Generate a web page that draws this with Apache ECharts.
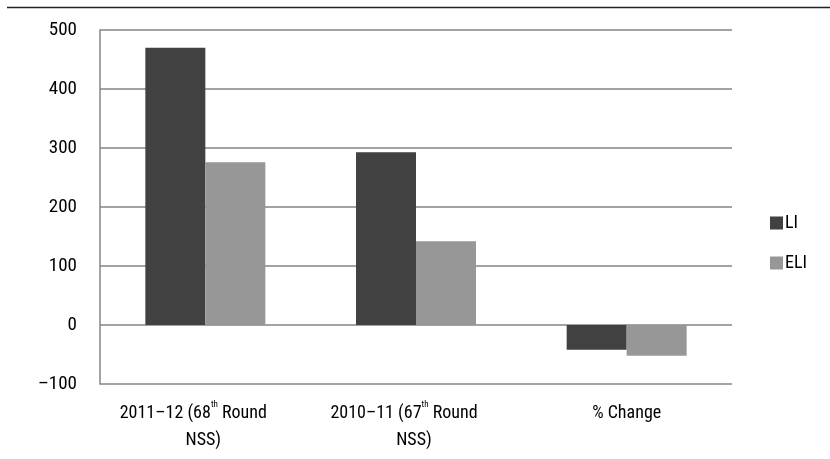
<!DOCTYPE html>
<html>
<head>
<meta charset="utf-8">
<script src="https://cdn.jsdelivr.net/npm/echarts@6/dist/echarts.min.js"></script>
<style>
html,body{margin:0;padding:0;background:#fff;}
#c{width:830px;height:459px;}
</style>
</head>
<body>
<div id="c"></div>
<script>
const categories = ['2011–12 (68th Round NSS)', '2010–11 (67th Round NSS)', '% Change'];
const seriesNames = ['LI', 'ELI'];
const liValues = [470, 293, -42];
const eliValues = [276, 142, -52];
const yTicks = [-100, 0, 100, 200, 300, 400, 500];

const FONT = '"Roboto Condensed", "Liberation Sans Narrow", sans-serif';
const chart = echarts.init(document.getElementById('c'));

function catLabel(v) {
  const m = v.match(/^(.*\()(\d+)th (Round) (NSS\))$/);
  if (m) {
    return '{a|' + m[1] + m[2] + '}{s|th}{a| ' + m[3] + '}{g|}\n{a|' + m[4] + '}{h|}';
  }
  return '{a|' + v + '}';
}

chart.setOption({
  animation: false,
  backgroundColor: '#fff',
  textStyle: { fontFamily: FONT },
  graphic: [{
    type: 'line',
    shape: { x1: 7, y1: 7.5, x2: 830, y2: 7.5 },
    style: { stroke: '#222', lineWidth: 1.5 }
  }],
  grid: { left: 100, right: 98, top: 30, bottom: 75, containLabel: false },
  legend: {
    orient: 'vertical',
    left: 765,
    top: 209,
    itemWidth: 13,
    itemHeight: 13,
    itemGap: 22,
    icon: 'rect',
    data: seriesNames,
    textStyle: { fontFamily: FONT, fontSize: 18, color: '#000', padding: [0, 0, 0, -3] }
  },
  xAxis: {
    type: 'category',
    data: categories,
    axisLine: { show: false },
    axisTick: { show: false },
    axisLabel: {
      margin: 16,
      interval: 0,
      formatter: catLabel,
      rich: {
        a: { fontFamily: FONT, fontSize: 18, color: '#000', lineHeight: 27 },
        s: { fontFamily: FONT, fontSize: 9, color: '#000', verticalAlign: 'top', lineHeight: 19 },
        g: { width: 24 },
        h: { width: 4 }
      }
    }
  },
  yAxis: {
    type: 'value',
    min: -100,
    max: 500,
    interval: 100,
    axisLine: { show: true, lineStyle: { color: '#858585', width: 1.5 } },
    axisTick: { show: false },
    splitLine: { show: true, lineStyle: { color: '#858585', width: 1.5 } },
    axisLabel: {
      margin: 23,
      fontFamily: FONT,
      fontSize: 19,
      color: '#000',
      formatter: function (v) { return yTicks.indexOf(v) >= 0 ? String(v).replace('-', '–') : ''; }
    }
  },
  series: [
    { name: seriesNames[0], type: 'bar', data: liValues, barWidth: 60, barGap: '0%', itemStyle: { color: '#414141' } },
    { name: seriesNames[1], type: 'bar', data: eliValues, barWidth: 60, barGap: '0%', itemStyle: { color: '#979797' } }
  ]
});
</script>
</body>
</html>
